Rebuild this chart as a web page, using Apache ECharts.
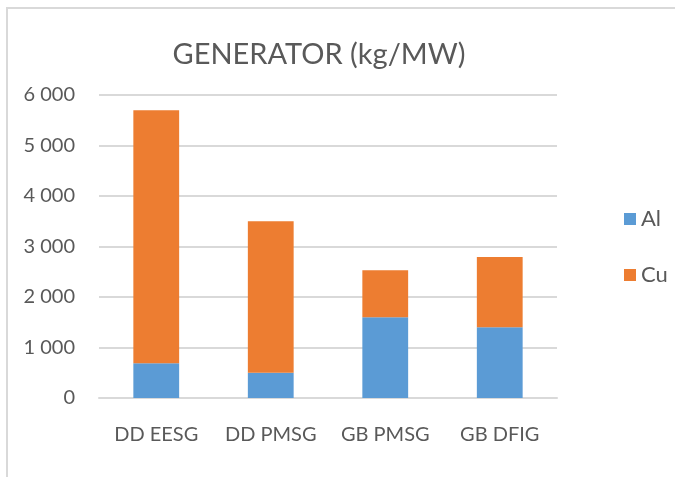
<!DOCTYPE html>
<html>
<head>
<meta charset="utf-8">
<script src="https://cdn.jsdelivr.net/npm/echarts@6/dist/echarts.min.js"></script>
<style>
  html, body { margin: 0; padding: 0; background: #ffffff; }
  #chart { width: 675px; height: 477px; }
</style>
</head>
<body>
<div id="chart"></div>
<script>
// Generator material intensity, kg per MW
const categories = ['DD EESG', 'DD PMSG', 'GB PMSG', 'GB DFIG'];
const aluminium = [690, 500, 1600, 1400];
const copper = [5010, 3000, 930, 1390];
const seriesNames = ['Al', 'Cu'];
const yTicks = [0, 1000, 2000, 3000, 4000, 5000, 6000];

const FONT = "Lato, 'Noto Sans', sans-serif";
const TEXT = '#595959';

const fmt = v => {
  const s = String(v);
  return s.length > 3 ? s.slice(0, s.length - 3) + ' ' + s.slice(-3) : s;
};

const chart = echarts.init(document.getElementById('chart'), null, { renderer: 'canvas' });
chart.setOption({
  backgroundColor: '#ffffff',
  animation: false,
  graphic: [{
    type: 'rect',
    shape: { x: 7, y: 8, width: 700, height: 500 },
    style: { fill: 'none', stroke: '#d9d9d9', lineWidth: 2 },
    z: -1
  }],
  title: {
    text: 'GENERATOR (kg/MW)',
    left: 314, top: 35,
    textAlign: 'center',
    textStyle: { fontFamily: FONT, fontSize: 29, fontWeight: 'normal', color: TEXT }
  },
  legend: {
    orient: 'vertical',
    left: 619, top: 203,
    itemWidth: 12, itemHeight: 12, itemGap: 34,
    icon: 'rect',
    data: seriesNames,
    textStyle: { fontFamily: FONT, fontSize: 22, color: TEXT }
  },
  grid: { left: 99, right: 118, top: 95, bottom: 79 },
  xAxis: {
    type: 'category',
    data: categories,
    axisLine: { lineStyle: { color: '#d9d9d9', width: 2 } },
    axisTick: { show: false },
    axisLabel: { fontFamily: FONT, fontSize: 20, color: TEXT, margin: 27, interval: 0 }
  },
  yAxis: {
    type: 'value',
    min: yTicks[0], max: yTicks[yTicks.length - 1], interval: 1000,
    axisLine: { show: false },
    axisTick: { show: false },
    splitLine: { lineStyle: { color: '#d9d9d9', width: 2 } },
    axisLabel: { fontFamily: FONT, fontSize: 20, color: TEXT, margin: 24, formatter: fmt }
  },
  series: [
    {
      name: seriesNames[0], type: 'bar', stack: 'total', data: aluminium,
      barWidth: '40%', itemStyle: { color: '#5b9bd5' }
    },
    {
      name: seriesNames[1], type: 'bar', stack: 'total', data: copper,
      barWidth: '40%', itemStyle: { color: '#ed7d31' }
    }
  ]
});
</script>
</body>
</html>
